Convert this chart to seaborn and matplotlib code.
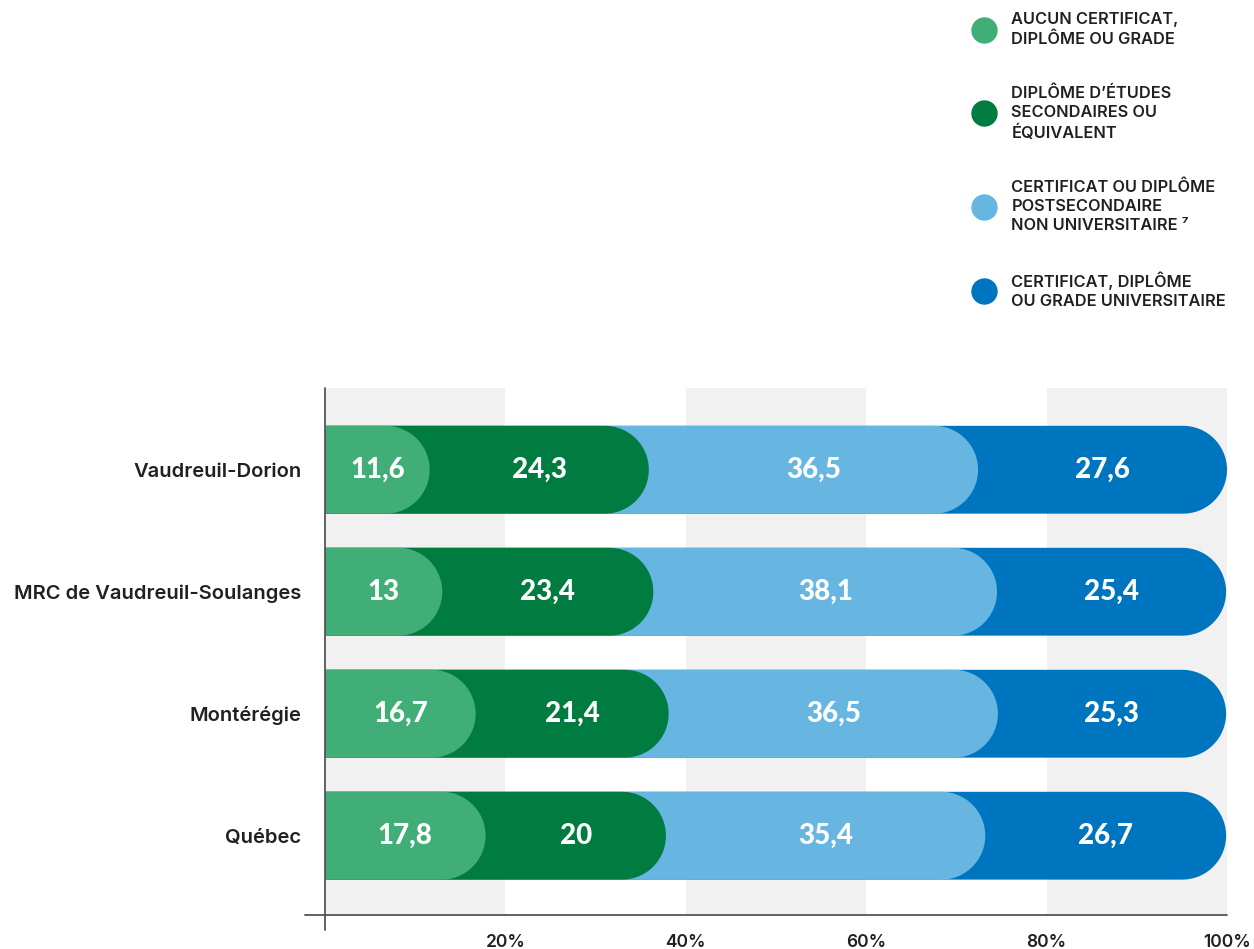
import numpy as np
import pandas as pd
import matplotlib.pyplot as plt
import seaborn as sns
from matplotlib.path import Path
from matplotlib.patches import PathPatch
from matplotlib.lines import Line2D

regions = ['Vaudreuil-Dorion', 'MRC de Vaudreuil-Soulanges', 'Montérégie', 'Québec']
levels = [
    'AUCUN CERTIFICAT,\nDIPLÔME OU GRADE',
    'DIPLÔME D’ÉTUDES\nSECONDAIRES OU\nÉQUIVALENT',
    'CERTIFICAT OU DIPLÔME\nPOSTSECONDAIRE\nNON UNIVERSITAIRE ⁷',
    'CERTIFICAT, DIPLÔME\nOU GRADE UNIVERSITAIRE',
]
aucun = [11.6, 13, 16.7, 17.8]
secondaire = [24.3, 23.4, 21.4, 20]
postsec = [36.5, 38.1, 36.5, 35.4]
univ = [27.6, 25.4, 25.3, 26.7]
series = [aucun, secondaire, postsec, univ]
colors = ['#41ad77', '#007c41', '#67b6e2', '#0075bf']
xticks = [20, 40, 60, 80, 100]
xticklabels = ['20%', '40%', '60%', '80%', '100%']

TEXT = '#231f20'

# cumulative table, one row per segment
rows = []
for i, reg in enumerate(regions):
    cum = 0
    for lvl, vals in zip(levels, series):
        cum += vals[i]
        rows.append({'region': reg, 'level': lvl, 'value': vals[i],
                     'start': cum - vals[i], 'end': cum})
df = pd.DataFrame(rows)

sns.set_theme(style='white')
plt.rcParams['font.family'] = ['Inter', 'DejaVu Sans']

W, H = 1254, 949
fig = plt.figure(figsize=(W / 100, H / 100), dpi=100)
ax = fig.add_axes([325 / W, 1 - 915 / H, 902 / W, 527 / H])

# widest bars first so each shorter one sits on top
sns.barplot(data=df, y='region', x='end', hue='level', hue_order=levels[::-1],
            order=regions, palette=dict(zip(levels, colors)), dodge=False,
            width=0.72, saturation=1, errorbar=None, legend=False, ax=ax)
bars = list(ax.patches)

ax.set_xlim(0, 100)
ax.set_ylim(3.65, -0.67)

for a in (0, 40, 80):
    ax.axvspan(a, a + 20, color='#f1f1f1', lw=0, zorder=0)

# swap plain rectangles for bars with a round right end
p0 = ax.transData.transform((0, 0))
px_x = ax.transData.transform((1, 0))[0] - p0[0]
px_y = abs(ax.transData.transform((0, 1))[1] - p0[1])


def pill(x0, x1, yc, h):
    rx = (h / 2) * px_y / px_x
    t = np.linspace(-np.pi / 2, np.pi / 2, 60)
    arc = np.column_stack([x1 - rx + rx * np.cos(t), yc + h / 2 * np.sin(t)])
    verts = np.vstack([[x0, yc - h / 2], arc, [[x0, yc + h / 2], [x0, yc - h / 2]]])
    return Path(verts, closed=True)


for p in bars:
    x0, w = p.get_x(), p.get_width()
    y0, h = p.get_y(), p.get_height()
    fc = p.get_facecolor()
    p.remove()
    ax.add_patch(PathPatch(pill(x0, x0 + w, y0 + h / 2, h), facecolor=fc,
                           edgecolor='none', zorder=2))

for _, r in df.iterrows():
    i = regions.index(r['region'])
    lab = f"{r['value']:g}".replace('.', ',')
    ax.text((r['start'] + r['end']) / 2, i, lab, ha='center', va='center',
            color='white', fontsize=20, fontweight='black',
            family=['Lato', 'DejaVu Sans'], zorder=5)

for s in ax.spines.values():
    s.set_visible(False)
ax.plot([-0.022, 1], [0, 0], transform=ax.transAxes, color='#555555', lw=1.3,
        clip_on=False, zorder=3)
ax.plot([0, 0], [-0.028, 1], transform=ax.transAxes, color='#555555', lw=1.3,
        clip_on=False, zorder=3)

ax.set_xticks(xticks)
ax.set_xticklabels(xticklabels, fontweight='semibold')
ax.set_yticks(range(len(regions)))
ax.set_yticklabels(regions, fontweight='semibold')
ax.tick_params(axis='x', length=0, pad=14, labelsize=12.5, labelcolor=TEXT)
ax.tick_params(axis='y', length=0, pad=17, labelsize=14.5, labelcolor=TEXT)
ax.set_xlabel('')
ax.set_ylabel('')

handles = [Line2D([], [], marker='o', ls='', markersize=19,
                  markerfacecolor=c, markeredgecolor='none') for c in colors]
leg = fig.legend(handles, levels, loc='upper left',
                 bbox_to_anchor=(972 / W, 1 - 12 / H), frameon=False,
                 prop={'size': 11.8, 'weight': 'semibold'}, labelspacing=2.35,
                 handletextpad=0.9, handlelength=1.5, borderpad=0,
                 borderaxespad=0)
for t in leg.get_texts():
    t.set_linespacing(1.35)
    t.set_color(TEXT)

fig.savefig('out.png', dpi=100)
